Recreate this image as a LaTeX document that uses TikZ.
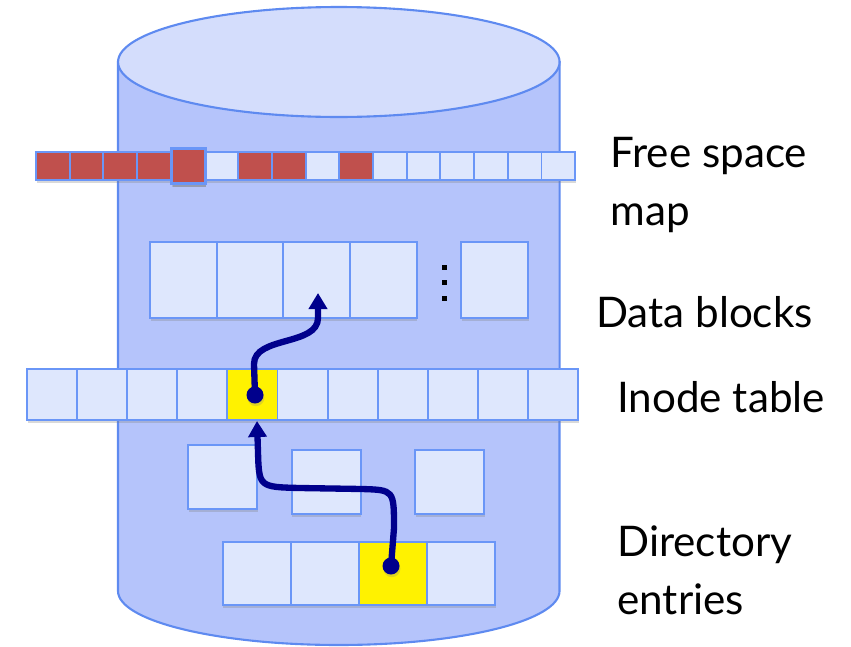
\documentclass[tikz,border=0pt]{standalone}
\usepackage{fontspec}
\setmainfont{Lato}
\usetikzlibrary{arrows.meta,shadows}

\definecolor{diskfill}{RGB}{181,196,251}
\definecolor{disktop}{RGB}{212,221,252}
\definecolor{diskline}{RGB}{94,138,240}
\definecolor{blockfill}{RGB}{222,231,253}
\definecolor{blockline}{RGB}{106,150,247}
\definecolor{usedred}{RGB}{192,80,77}
\definecolor{ptrblue}{RGB}{0,0,140}

\tikzstyle{block} = [draw=blockline, line width=1.1pt, fill=blockfill, inner sep=0pt, drop shadow={shadow xshift=0.4pt, shadow yshift=-1.6pt, opacity=0.3}]
\tikzstyle{bit} = [block, minimum width=0.674cm, minimum height=0.56cm]
\tikzstyle{used} = [fill=usedred]
\tikzstyle{free} = []
\tikzstyle{hit} = [fill=yellow]
\tikzstyle{ptr} = [draw=ptrblue, line width=3.6pt, -{Triangle[width=0.36cm,length=0.32cm]}]
\tikzstyle{ptrdot} = [circle, fill=ptrblue, minimum size=0.34cm, inner sep=0pt, drop shadow={shadow xshift=0.5pt, shadow yshift=-1.5pt, opacity=0.25}]
\tikzstyle{sidetext} = [font=\fontsize{24}{33}\selectfont, inner sep=0pt, align=left]

\begin{document}
\begin{tikzpicture}[x=0.02cm, y=-0.02cm]
    \useasboundingbox (0,0) rectangle (851,646);

    % Disco
    \draw[diskline, line width=1.2pt, fill=diskfill] (118,62) -- (118,591)
        arc[start angle=180, end angle=360, x radius=4.416cm, y radius=1.08cm] -- (559.6,62) -- cycle;
    \draw[diskline, line width=1.2pt, fill=disktop] (338.8,62) ellipse[x radius=4.416cm, y radius=1.1cm];

    % Free space map
    \foreach \i/\s in {0/used,1/used,2/used,3/used,5/free,6/used,7/used,8/free,9/used,10/free,11/free,12/free,13/free,14/free,15/free}
        \node[bit, \s] (fs\i) at ({52.85+33.7*\i},166) {};
    \node[bit, used, minimum width=0.67cm, minimum height=0.71cm, line width=1.6pt, drop shadow={shadow xshift=0.6pt, shadow yshift=-2pt, opacity=0.4}] (fs4) at (188.5,166) {};

    % Data blocks
    \foreach \i in {1,...,4}
        \node[block, minimum width=1.334cm, minimum height=1.52cm] (db\i) at ({116.6+66.7*\i},280) {};
    \node[block, minimum width=1.334cm, minimum height=1.52cm] (db5) at (494.5,280) {};
    \foreach \i/\y in {1/267,2/282,3/298}
        \node[fill=black, minimum size=0.1cm, inner sep=0pt] (dot\i) at (444,\y) {};

    % Inode table
    \foreach \i/\s in {0/free,1/free,2/free,3/free,4/hit,5/free,6/free,7/free,8/free,9/free,10/free}
        \node[block, \s, minimum width=1.002cm, minimum height=1.02cm] (in\i) at ({52.05+50.1*\i},394.5) {};

    % Blocchi sparsi
    \node[block, minimum width=1.38cm, minimum height=1.28cm] (mid1) at (222.8,477) {};
    \node[block, minimum width=1.38cm, minimum height=1.28cm] (mid2) at (326.2,482.4) {};
    \node[block, minimum width=1.38cm, minimum height=1.28cm] (mid3) at (449.7,482.4) {};

    % Directory entries
    \foreach \i/\s in {0/free,1/free,2/hit,3/free}
        \node[block, \s, minimum width=1.362cm, minimum height=1.26cm] (de\i) at ({256.75+68.1*\i},573.4) {};

    % Puntatori
    \node[ptrdot] (idot) at (255,395) {};
    \node[ptrdot] (ddot) at (391,566) {};
    \coordinate (dtip) at (318,293);
    \coordinate (itip) at (257,421);
    \draw[ptr] (idot.center) -- (254,364) .. controls (254,336) and (318,346) .. (318,318) -- (dtip);
    \draw[ptr] (ddot.center) -- (394,528) .. controls (394,490) .. (362,489) -- (300,488)
        .. controls (259,487) .. (258,452) -- (itip);

    % Etichette
    \node[sidetext, anchor=north west] (fsmtext) at (610,137) {Free space\\map};
    \node[sidetext, anchor=base west] (dbtext) at (596,327) {Data blocks};
    \node[sidetext, anchor=base west] (intext) at (617,412) {Inode table};
    \node[sidetext, anchor=north west] (detext) at (617,525) {Directory\\entries};

\end{tikzpicture}
\end{document}
